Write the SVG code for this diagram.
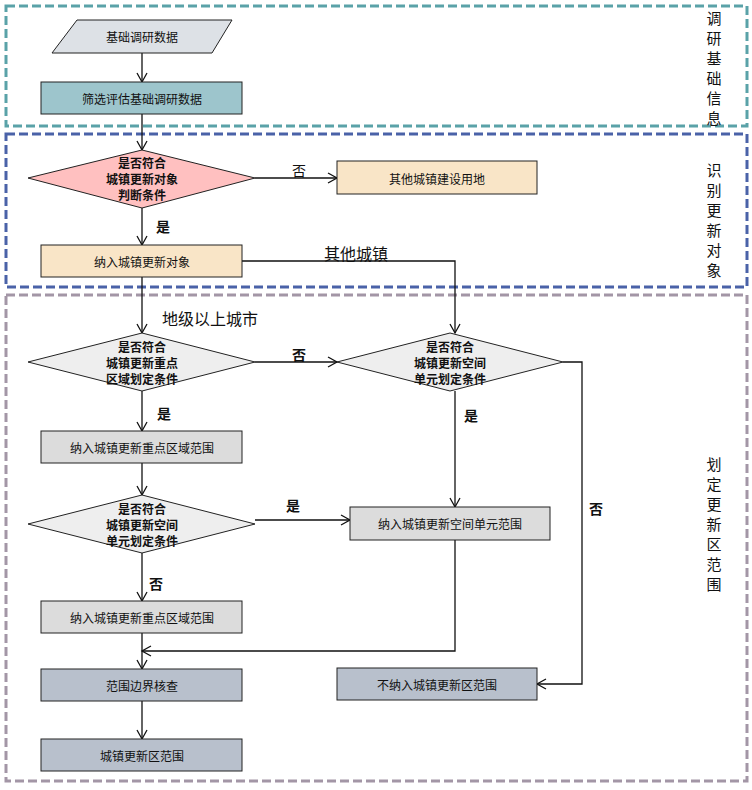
<svg xmlns="http://www.w3.org/2000/svg" width="752" height="790" viewBox="0 0 752 790">
<style>
text{font-family:"Noto Sans CJK SC","Liberation Sans",sans-serif;fill:#111;}
.n{font-size:12px;text-anchor:middle;dominant-baseline:central}
.d{font-weight:bold}
.l{font-size:14px;text-anchor:middle;dominant-baseline:central}
.L{font-size:16px;text-anchor:middle;dominant-baseline:central}
.s{font-size:15px;text-anchor:middle}
.b{stroke:#222;stroke-width:1}
.c path{fill:none;stroke:#111;stroke-width:1.3;marker-end:url(#a)}
</style>
<defs><marker id="a" markerWidth="12" markerHeight="12" refX="10" refY="6" orient="auto" markerUnits="userSpaceOnUse"><path d="M1,1 L10,6 L1,11" fill="none" stroke="#111" stroke-width="1.3"/></marker></defs>
<g id="frames" fill="none" stroke-width="3" stroke-dasharray="9,4">
<rect x="6" y="6" width="741" height="120" stroke="#5aa2a8"/>
<rect x="6" y="134" width="741" height="153" stroke="#4a62a8"/>
<rect x="6" y="295" width="741" height="486" stroke="#a396a6"/>
</g>
<g id="side" font-size="15">
<text class="s" x="714" y="24">调</text><text class="s" x="714" y="44">研</text><text class="s" x="714" y="64">基</text><text class="s" x="714" y="84">础</text><text class="s" x="714" y="104">信</text><text class="s" x="714" y="124">息</text>
<text class="s" x="714" y="176">识</text><text class="s" x="714" y="196">别</text><text class="s" x="714" y="216">更</text><text class="s" x="714" y="236">新</text><text class="s" x="714" y="256">对</text><text class="s" x="714" y="276">象</text>
<text class="s" x="714" y="470">划</text><text class="s" x="714" y="490">定</text><text class="s" x="714" y="510">更</text><text class="s" x="714" y="530">新</text><text class="s" x="714" y="550">区</text><text class="s" x="714" y="570">范</text><text class="s" x="714" y="590">围</text>
</g>
<g class="c" id="connectors">
<path d="M142,53 V82"/>
<path d="M142,114 V150"/>
<path d="M255,178 H337"/>
<path d="M142,208 V245"/>
<path d="M242,261 H455 V333"/>
<path d="M142,277 V333"/>
<path d="M255,362 H337"/>
<path d="M142,391 V431"/>
<path d="M455,391 V507"/>
<path d="M563,362 H582 V684 H537"/>
<path d="M142,463 V495"/>
<path d="M255,520 H350"/>
<path d="M142,553 V601"/>
<path d="M455,540 V651 H142"/>
<path d="M142,633 V669"/>
<path d="M142,701 V739"/>
</g>
<g id="labels">
<text class="l" x="299" y="170">否</text>
<text class="l d" x="163" y="226">是</text>
<text class="L" x="356" y="253">其他城镇</text>
<text class="L" x="210" y="318">地级以上城市</text>
<text class="l d" x="299" y="354">否</text>
<text class="l d" x="164" y="413">是</text>
<text class="l d" x="471" y="415">是</text>
<text class="l d" x="293" y="505">是</text>
<text class="l d" x="596" y="508">否</text>
<text class="l d" x="156" y="583">否</text>
</g>
<g id="n1"><polygon class="b" points="77,20 232,20 212,53 52,53" fill="#dde1e6"/><text class="n" x="142" y="36">基础调研数据</text></g>
<g id="n2"><rect class="b" x="41" y="82" width="201" height="32" fill="#9dc5cc"/><text class="n" x="142" y="98">筛选评估基础调研数据</text></g>
<g id="n3"><polygon class="b" points="28,178 142,150 255,178 142,208" fill="#ffc0c0"/><text class="n d" x="142" y="162">是否符合</text><text class="n d" x="142" y="178">城镇更新对象</text><text class="n d" x="142" y="194">判断条件</text></g>
<g id="n4"><rect class="b" x="337" y="161" width="200" height="33" fill="#f9e5c7"/><text class="n" x="437" y="178">其他城镇建设用地</text></g>
<g id="n5"><rect class="b" x="41" y="245" width="201" height="32" fill="#f9e5c7"/><text class="n" x="142" y="261">纳入城镇更新对象</text></g>
<g id="n6"><polygon class="b" points="28,362 142,333 255,362 142,391" fill="#eeeeee"/><text class="n d" x="142" y="346">是否符合</text><text class="n d" x="142" y="362">城镇更新重点</text><text class="n d" x="142" y="378">区域划定条件</text></g>
<g id="n7"><polygon class="b" points="337,362 450,333 563,362 450,391" fill="#eeeeee"/><text class="n d" x="450" y="346">是否符合</text><text class="n d" x="450" y="362">城镇更新空间</text><text class="n d" x="450" y="378">单元划定条件</text></g>
<g id="n8"><rect class="b" x="41" y="431" width="201" height="32" fill="#dcdcdc"/><text class="n" x="142" y="447">纳入城镇更新重点区域范围</text></g>
<g id="n9"><polygon class="b" points="28,524 142,495 255,524 142,553" fill="#eeeeee"/><text class="n d" x="142" y="508">是否符合</text><text class="n d" x="142" y="524">城镇更新空间</text><text class="n d" x="142" y="540">单元划定条件</text></g>
<g id="n10"><rect class="b" x="350" y="507" width="200" height="33" fill="#dcdcdc"/><text class="n" x="450" y="523">纳入城镇更新空间单元范围</text></g>
<g id="n11"><rect class="b" x="41" y="601" width="201" height="32" fill="#dcdcdc"/><text class="n" x="142" y="617">纳入城镇更新重点区域范围</text></g>
<g id="n12"><rect class="b" x="41" y="669" width="201" height="32" fill="#b8c0cc"/><text class="n" x="142" y="685">范围边界核查</text></g>
<g id="n13"><rect class="b" x="337" y="668" width="200" height="32" fill="#b8c0cc"/><text class="n" x="437" y="684">不纳入城镇更新区范围</text></g>
<g id="n14"><rect class="b" x="41" y="739" width="201" height="32" fill="#b8c0cc"/><text class="n" x="142" y="755">城镇更新区范围</text></g>
</svg>
